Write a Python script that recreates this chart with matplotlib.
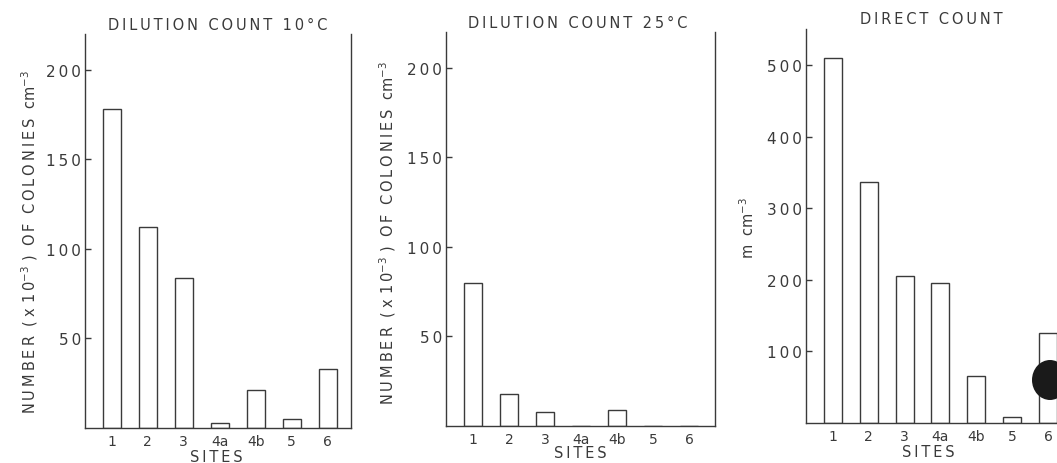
import numpy as np
import matplotlib.pyplot as plt
from matplotlib.patches import Ellipse
from matplotlib.ticker import FuncFormatter

sites = ['1', '2', '3', '4a', '4b', '5', '6']
dilution_10 = [178, 112, 84, 3, 21, 5, 33]
dilution_25 = [80, 18, 8, 0, 9, 0, 0]
direct = [510, 337, 205, 195, 65, 9, 125]

titles = ['DILUTION COUNT 10°C', 'DILUTION COUNT 25°C', 'DIRECT COUNT']

ink = '#3a3a3a'
plt.rcParams['font.family'] = 'DejaVu Sans'
plt.rcParams['font.size'] = 10

TS = '\u2009'  # thin space, to widen the lettering like the stencil text


def spaced(s):
    return TS.join(s)


ylabel = (spaced('NUMBER') + '  ( x ' + spaced('10') + '$^{-3}$ )  ' + spaced('OF') + '  '
          + spaced('COLONIES') + '  cm$^{-3}$')

fig = plt.figure(figsize=(10.57, 4.64), dpi=100)

# axes boxes in figure fractions
boxes = [
    [0.0804, 0.0754, 0.2516, 0.8492],
    [0.4220, 0.0797, 0.2544, 0.8492],
    [0.7625, 0.0862, 0.2510, 0.8488],
]
ylims = [220, 220, 550]
yticks = [[50, 100, 150, 200], [50, 100, 150, 200], [100, 200, 300, 400, 500]]
xlims = [(-0.75, 6.65), (-0.75, 6.72), (-0.75, 6.65)]
data = [dilution_10, dilution_25, direct]

x = np.arange(len(sites))
for i in range(3):
    ax = fig.add_axes(boxes[i])
    ax.bar(x, data[i], width=0.5, facecolor='white', edgecolor=ink, linewidth=1.0)
    ax.set_xlim(*xlims[i])
    ax.set_ylim(0, ylims[i])
    ax.set_yticks(yticks[i])
    ax.yaxis.set_major_formatter(FuncFormatter(lambda v, p: spaced(str(int(v)))))
    ax.set_xticks(x)
    ax.set_xticklabels(sites)
    ax.tick_params(axis='y', direction='in', length=4, width=1, colors=ink, labelsize=11, pad=3)
    ax.tick_params(axis='x', length=0, colors=ink, labelsize=10, pad=4)
    ax.spines['top'].set_visible(False)
    for s in ['left', 'right', 'bottom']:
        ax.spines[s].set_color(ink)
        ax.spines[s].set_linewidth(1.0)

# x axis names
for px, py in [(216, 458), (580, 454), (928, 453)]:
    fig.text(px / 1057, 1 - py / 464, spaced('SITES'), ha='center', va='center', color=ink, fontsize=10.5)

# titles
fig.text(218 / 1057, 1 - 25 / 464, spaced(titles[0]), ha='center', va='center', color=ink, fontsize=10.5)
fig.text(578 / 1057, 1 - 23 / 464, spaced(titles[1]), ha='center', va='center', color=ink, fontsize=10.5)
fig.text(931 / 1057, 1 - 20 / 464, spaced(titles[2]), ha='center', va='center', color=ink, fontsize=10.5)

# y labels
fig.text(30 / 1057, 1 - 242 / 464, ylabel, rotation=90, ha='center', va='center', color=ink, fontsize=10.5)
fig.text(388 / 1057, 1 - 233 / 464, ylabel, rotation=90, ha='center', va='center', color=ink, fontsize=10.5)
fig.text(748 / 1057, 1 - 228 / 464, 'm  cm$^{-3}$', rotation=90, ha='center', va='center', color=ink, fontsize=10.5)

# dark blot on the scan
blot = Ellipse((1050 / 1057, 1 - 381 / 464), 36 / 1057, 40 / 464, transform=fig.transFigure,
               facecolor='#1a1a1a', edgecolor='none', zorder=10)
fig.patches.append(blot)

plt.savefig('out.png', dpi=100)
